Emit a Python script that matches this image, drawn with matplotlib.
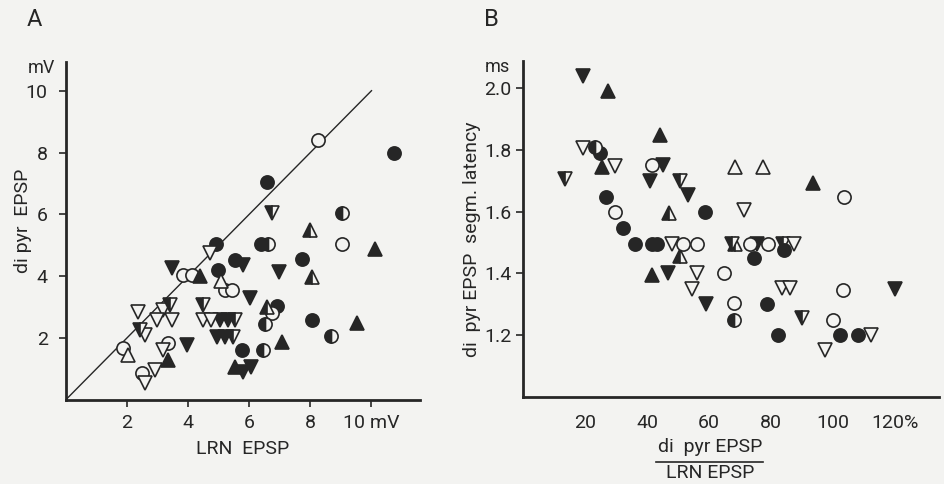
import matplotlib
matplotlib.use("Agg")
import matplotlib.pyplot as plt
from matplotlib.lines import Line2D

plt.rcParams['font.family'] = ['Roboto', 'DejaVu Sans']

# ---------------- data ----------------
# kinds: fc filled circle, oc open circle, hc half circle,
#        fu filled tri up, ou open tri up, hu half tri up,
#        fd filled tri down, od open tri down, hd half tri down
a_x = [10.74, 6.57, 4.9, 5.53, 4.98, 7.74, 6.9, 8.07, 5.78, 6.4,
       8.25, 9.05, 3.84, 4.12, 5.2, 5.45, 6.76, 1.88, 3.35, 2.48,
       9.05, 6.62, 6.51, 8.66, 6.46,
       10.1, 4.4, 9.51, 7.07, 3.35, 5.53,
       5.09, 2.04,
       7.98, 8.07, 6.57,
       3.46, 5.8, 6.96, 6.02, 5.03, 5.3, 4.93, 5.2, 3.95, 5.8, 6.05,
       4.72, 2.37, 3.19, 2.97, 3.46, 4.49, 4.76, 3.19, 2.59, 2.59, 2.92,
       6.73, 3.4, 4.49, 5.52, 5.48, 2.43]
a_y = [8.0, 7.03, 5.05, 4.52, 4.2, 4.56, 3.05, 2.58, 1.6, 5.03,
       8.4, 5.05, 4.04, 4.04, 3.55, 3.55, 2.8, 1.66, 1.83, 0.86,
       6.05, 5.03, 2.45, 2.07, 1.6,
       4.88, 4.02, 2.5, 1.86, 1.29, 1.07,
       3.85, 1.45,
       5.49, 3.98, 3.0,
       4.25, 4.36, 4.15, 3.3, 2.58, 2.58, 2.04, 2.04, 1.77, 0.9, 1.07,
       4.75, 2.85, 2.9, 2.58, 2.58, 2.58, 2.58, 1.61, 0.53, 2.09, 0.96,
       6.05, 3.07, 3.07, 2.58, 2.04, 2.26]
a_kind = (['fc'] * 10 + ['oc'] * 10 + ['hc'] * 5 + ['fu'] * 6 + ['ou'] * 2
          + ['hu'] * 3 + ['fd'] * 11 + ['od'] * 11 + ['hd'] * 6)

b_x = [19.4, 45.2, 40.9, 53.3, 75.3, 46.8, 59.0, 119.9,
       27.5, 44.1, 25.6, 93.6, 41.5,
       47.1, 50.6, 68.3,
       68.3, 77.3,
       13.5, 50.6, 67.3, 83.9, 89.8,
       19.4, 29.6, 47.9, 87.2, 71.2, 56.0, 54.4, 83.4, 86.1, 112.1, 97.4,
       26.7, 32.1, 36.1, 41.5, 43.1, 58.6, 74.4, 84.2, 78.5, 82.3, 102.2, 107.9, 24.8,
       41.5, 29.6, 51.6, 56.0, 73.2, 79.1, 64.8, 68.1, 103.1, 100.0, 103.3,
       23.2, 68.1]
b_y = [2.04, 1.751, 1.70, 1.654, 1.497, 1.40, 1.30, 1.348,
       1.99, 1.849, 1.746, 1.692, 1.395,
       1.595, 1.455, 1.497,
       1.746, 1.746,
       1.705, 1.70, 1.497, 1.497, 1.255,
       1.806, 1.748, 1.497, 1.497, 1.605, 1.40, 1.348, 1.352, 1.352, 1.20, 1.152,
       1.647, 1.546, 1.497, 1.497, 1.497, 1.60, 1.449, 1.476, 1.30, 1.20, 1.20, 1.20, 1.79,
       1.751, 1.60, 1.497, 1.497, 1.497, 1.497, 1.40, 1.303, 1.346, 1.249, 1.649,
       1.81, 1.249]
b_kind = (['fd'] * 8 + ['fu'] * 5 + ['hu'] * 3 + ['ou'] * 2 + ['hd'] * 5
          + ['od'] * 11 + ['fc'] * 13 + ['oc'] * 11 + ['hc'] * 2)

a_xticks = [2, 4, 6, 8, 10]
a_xticklabels = ['2', '4', '6', '8', '10 mV']
a_yticks = [2, 4, 6, 8, 10]
a_yticklabels = ['2', '4', '6', '8', '10']
b_xticks = [20, 40, 60, 80, 100, 120]
b_xticklabels = ['20', '40', '60', '80', '100', '120%']
b_yticks = [1.2, 1.4, 1.6, 1.8, 2.0]
b_yticklabels = ['1.2', '1.4', '1.6', '1.8', '2.0']

# ---------------- style ----------------
INK = '#262626'
BG = '#f3f3f1'
FS = 14
STY = {
    'fc': dict(marker='o', fillstyle='full', mfc=INK),
    'oc': dict(marker='o', fillstyle='full', mfc=BG),
    'hc': dict(marker='o', fillstyle='left', mfc=INK, mfcalt=BG),
    'fu': dict(marker='^', fillstyle='full', mfc=INK),
    'ou': dict(marker='^', fillstyle='full', mfc=BG),
    'hu': dict(marker='^', fillstyle='left', mfc=INK, mfcalt=BG),
    'fd': dict(marker='v', fillstyle='full', mfc=INK),
    'od': dict(marker='v', fillstyle='full', mfc=BG),
    'hd': dict(marker='v', fillstyle='left', mfc=INK, mfcalt=BG),
}


def draw_points(ax, xs, ys, kinds):
    for x, y, k in zip(xs, ys, kinds):
        s = STY[k]
        size = 9.5 if s['marker'] == 'o' else 10
        kw = dict(marker=s['marker'], markersize=size, fillstyle=s['fillstyle'],
                  markerfacecolor=s['mfc'], markeredgecolor=INK,
                  markeredgewidth=1.2, linestyle='none', zorder=3)
        if 'mfcalt' in s:
            kw['markerfacecoloralt'] = s['mfcalt']
        ax.plot([x], [y], **kw)


def style_axes(ax):
    for side in ('top', 'right'):
        ax.spines[side].set_visible(False)
    for side in ('left', 'bottom'):
        ax.spines[side].set_linewidth(2.0)
        ax.spines[side].set_color(INK)
    ax.set_facecolor(BG)
    ax.tick_params(direction='out', length=5, width=1.2, colors=INK,
                   labelsize=FS, pad=5)


fig = plt.figure(figsize=(9.44, 4.84), dpi=100, facecolor=BG)

# ---- Panel A ----
axA = fig.add_axes([0.0697, 0.174, 0.375, 0.698])
style_axes(axA)
axA.set_xlim(0, 11.58)
axA.set_ylim(0, 10.93)
axA.plot([0, 10], [0, 10], color=INK, lw=1.0, zorder=2)
draw_points(axA, a_x, a_y, a_kind)
axA.set_xticks(a_xticks)
axA.set_xticklabels(a_xticklabels)
axA.set_yticks(a_yticks)
axA.set_yticklabels(a_yticklabels)
axA.tick_params(axis='y', pad=8)
axA.set_xlabel('LRN  EPSP', fontsize=FS, color=INK, labelpad=6)
axA.set_ylabel('di pyr  EPSP', fontsize=FS, color=INK)
axA.yaxis.set_label_coords(-0.095, 0.53)
fig.text(41 / 944, 1 - 68 / 484, 'mV', fontsize=FS - 1, color=INK,
         ha='center', va='center')
fig.text(34 / 944, 1 - 20 / 484, 'A', fontsize=17, color=INK,
         ha='center', va='center')

# ---- Panel B ----
axB = fig.add_axes([0.554, 0.180, 0.4405, 0.695])
style_axes(axB)
axB.set_xlim(0, 134)
axB.set_ylim(1.0, 2.09)
draw_points(axB, b_x, b_y, b_kind)
axB.set_xticks(b_xticks)
axB.set_xticklabels(b_xticklabels)
axB.set_yticks(b_yticks)
axB.set_yticklabels(b_yticklabels)
axB.tick_params(axis='x', length=0, pad=12)
axB.tick_params(axis='y', pad=3)
axB.set_ylabel('di  pyr EPSP  segm. latency', fontsize=FS, color=INK)
axB.yaxis.set_label_coords(-0.102, 0.47)
fig.text(497 / 944, 1 - 67 / 484, 'ms', fontsize=FS - 1, color=INK,
         ha='center', va='center')
fig.text(491 / 944, 1 - 20 / 484, 'B', fontsize=17, color=INK,
         ha='center', va='center')
fig.text(710 / 944, 1 - 447 / 484, 'di  pyr EPSP', fontsize=FS, color=INK,
         ha='center', va='center')
fig.add_artist(Line2D([656 / 944, 763 / 944], [1 - 461.5 / 484, 1 - 461.5 / 484],
                      color=INK, lw=1.2, transform=fig.transFigure))
fig.text(710 / 944, 1 - 473 / 484, 'LRN EPSP', fontsize=FS, color=INK,
         ha='center', va='center')

fig.savefig('out.png', dpi=100, facecolor=BG)
